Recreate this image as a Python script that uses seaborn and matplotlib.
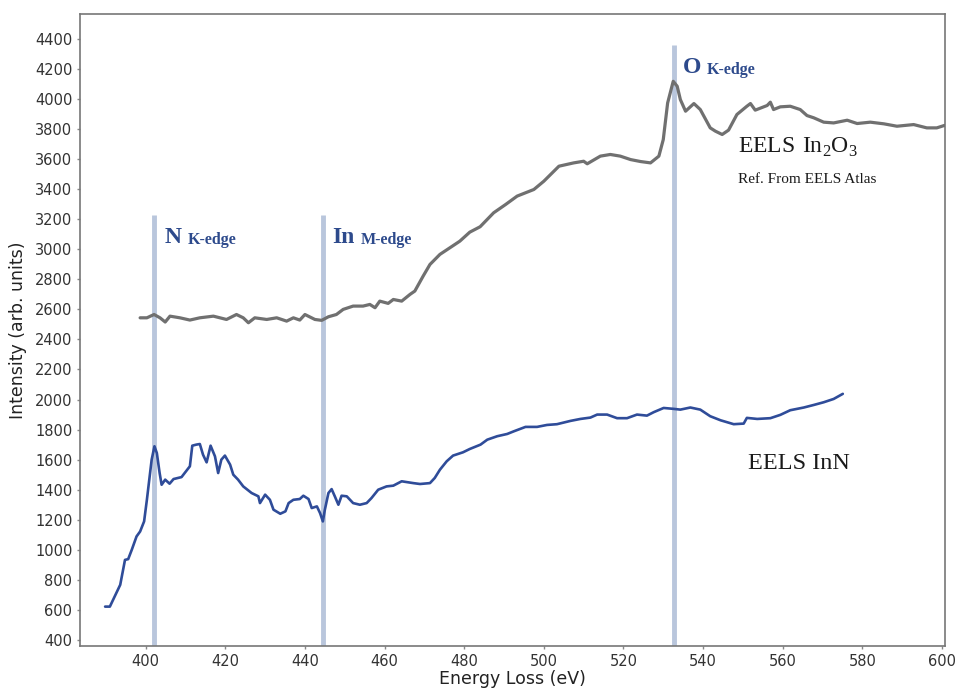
import numpy as np
import pandas as pd
import matplotlib
matplotlib.use("Agg")
import matplotlib.pyplot as plt
import seaborn as sns

# EELS In2O3 (reference, EELS Atlas)
in2o3_ev = [398.6, 400.3, 402.1, 403.6, 404.9, 406.1, 408.6, 411.1, 413.6, 417.0,
            420.3, 422.8, 424.5, 425.8, 427.4, 430.4, 432.9, 435.4, 437.1, 438.7,
            440.0, 442.5, 444.2, 445.9, 447.9, 449.6, 452.1, 454.6, 456.3, 457.6,
            458.8, 460.9, 462.2, 464.3, 466.4, 467.6, 469.7, 471.4, 473.9, 476.8,
            478.9, 481.4, 484.0, 487.4, 490.4, 493.3, 497.5, 500.0, 503.8, 507.5,
            510.0, 510.9, 514.2, 516.7, 519.2, 521.8, 524.3, 526.8, 528.9, 530.0,
            531.1, 532.5, 533.5, 534.3, 535.6, 537.7, 539.3, 541.8, 543.1, 544.8,
            546.4, 548.5, 551.0, 551.9, 553.1, 556.1, 556.9, 557.7, 559.4, 561.9,
            564.4, 566.1, 567.8, 570.3, 572.8, 576.2, 578.7, 582.0, 585.4, 588.7,
            592.9, 596.2, 598.7, 600.6]
in2o3_int = [2544, 2544, 2566, 2544, 2516, 2555, 2544, 2529, 2544, 2555,
             2533, 2566, 2544, 2511, 2544, 2533, 2544, 2522, 2544, 2529,
             2566, 2533, 2527, 2551, 2566, 2600, 2622, 2622, 2633, 2611,
             2655, 2640, 2666, 2655, 2700, 2722, 2822, 2899, 2966, 3017,
             3054, 3114, 3150, 3243, 3298, 3354, 3398, 3453, 3553, 3575,
             3586, 3569, 3620, 3631, 3620, 3597, 3584, 3575, 3620, 3730,
             3974, 4118, 4085, 3996, 3919, 3970, 3930, 3808, 3786, 3764,
             3793, 3897, 3952, 3970, 3926, 3957, 3979, 3930, 3948, 3952,
             3930, 3890, 3875, 3846, 3841, 3859, 3837, 3846, 3835, 3819,
             3830, 3808, 3808, 3824]

# EELS InN
inn_ev = [389.8, 391.0, 393.6, 394.8, 395.6, 396.5, 397.7, 398.6, 399.6, 400.3,
          400.9, 401.5, 402.2, 402.8, 403.5, 404.0, 404.9, 406.0, 407.0, 409.0,
          411.1, 411.7, 412.7, 413.6, 414.4, 415.3, 416.3, 417.4, 418.2, 419.0,
          419.9, 421.2, 422.0, 423.2, 424.5, 426.6, 428.3, 428.7, 430.0, 431.2,
          432.1, 433.8, 435.1, 435.9, 437.1, 438.7, 439.6, 440.9, 441.7, 443.0,
          443.8, 444.5, 445.0, 445.9, 446.7, 447.5, 448.4, 449.2, 450.5, 452.1,
          453.8, 455.5, 456.7, 458.4, 460.5, 462.2, 464.3, 467.2, 468.9, 471.4,
          472.6, 473.9, 475.6, 477.2, 479.7, 481.4, 484.1, 485.8, 488.3, 490.8,
          492.5, 495.4, 498.3, 500.8, 503.3, 506.7, 509.2, 511.7, 513.4, 515.9,
          518.4, 520.9, 523.4, 525.9, 527.6, 530.1, 532.6, 534.3, 536.8, 539.3,
          541.8, 544.4, 547.7, 550.2, 551.0, 553.6, 556.9, 559.4, 561.9, 565.3,
          567.8, 570.3, 572.8, 575.1]
inn_int = [622, 622, 767, 933, 938, 1000, 1089, 1122, 1189, 1333,
           1467, 1600, 1689, 1644, 1511, 1433, 1467, 1440, 1471, 1484,
           1556, 1693, 1700, 1704, 1633, 1582, 1693, 1622, 1511, 1600,
           1627, 1567, 1500, 1467, 1422, 1378, 1356, 1311, 1367, 1333,
           1267, 1240, 1256, 1311, 1333, 1338, 1360, 1338, 1278, 1289,
           1244, 1189, 1267, 1378, 1404, 1356, 1300, 1360, 1356, 1311,
           1300, 1311, 1344, 1400, 1422, 1427, 1456, 1444, 1438, 1444,
           1478, 1533, 1589, 1627, 1649, 1671, 1700, 1733, 1756, 1771,
           1789, 1818, 1818, 1831, 1836, 1858, 1871, 1880, 1900, 1900,
           1876, 1876, 1900, 1893, 1916, 1944, 1938, 1933, 1947, 1933,
           1889, 1862, 1836, 1840, 1878, 1871, 1876, 1898, 1929, 1947,
           1964, 1982, 2004, 2038]

# absorption edges
edge_ev = [402.2, 444.5, 532.6]
edge_top = [3230, 3230, 4360]
edge_elem = ["N", "In", "O"]
edge_name = ["K-edge", "M-edge", "K-edge"]

df_o = pd.DataFrame({"ev": in2o3_ev, "intensity": in2o3_int})
df_n = pd.DataFrame({"ev": inn_ev, "intensity": inn_int})

sns.set_theme(style="ticks")
plt.rcParams["font.family"] = ["DejaVu Sans"]
plt.rcParams["mathtext.fontset"] = "custom"
plt.rcParams["mathtext.rm"] = "Liberation Serif"

fig = plt.figure(figsize=(9.57, 6.92), dpi=100)
ax = fig.add_axes([0.0836, 0.0665, 0.904, 0.9133])

ymin = 360
ax.vlines(edge_ev, ymin, edge_top, color="#b9c6dc", lw=3.5, zorder=1)

sns.lineplot(data=df_o, x="ev", y="intensity", color="#707070", lw=2.3, ax=ax,
             sort=False, zorder=3)
sns.lineplot(data=df_n, x="ev", y="intensity", color="#2f4c99", lw=1.9, ax=ax,
             sort=False, zorder=3)

edge_col = "#2d4a8c"
serif = "Liberation Serif"
for ev, top, el, nm in zip(edge_ev, edge_top, edge_elem, edge_name):
    ax.annotate(el, (ev, top), xytext=(7, -20), textcoords="offset points",
                fontsize=17, fontweight="bold", family=serif, color=edge_col,
                va="baseline", ha="left")
    off = 20 if el == "In" else 17
    ax.annotate(nm, (ev, top), xytext=(7 + off, -21), textcoords="offset points",
                fontsize=11.5, fontweight="bold", family=serif, color=edge_col,
                va="baseline", ha="left")

ax.text(548.8, 3640, r"$\mathrm{EELS\ In}_{2}\mathrm{O}_{3}$", fontsize=17,
        color="#1a1a1a", va="baseline")
ax.text(548.8, 3440, "Ref. From EELS Atlas", fontsize=11, family=serif,
        color="#1a1a1a", va="baseline")
ax.text(551.3, 1540, "EELS InN", fontsize=17.5, family=serif,
        color="#1a1a1a", va="baseline")

ax.set_xlim(383.5, 600.8)
ax.set_ylim(ymin, 4566)
ax.set_xticks(np.arange(400, 601, 20))
ax.set_yticks(np.arange(400, 4401, 200))
ax.tick_params(axis="both", length=2.5, width=1, color="#888888",
               labelsize=10.5, labelcolor="#333333", pad=3)
ax.set_xlabel("Energy Loss (eV)", fontsize=12.5, color="#222222", labelpad=1)
ax.set_ylabel("Intensity (arb. units)", fontsize=12.5, color="#222222", labelpad=6)
for s in ax.spines.values():
    s.set_color("#777777")
    s.set_linewidth(1.2)

fig.savefig("out.png", dpi=100)
